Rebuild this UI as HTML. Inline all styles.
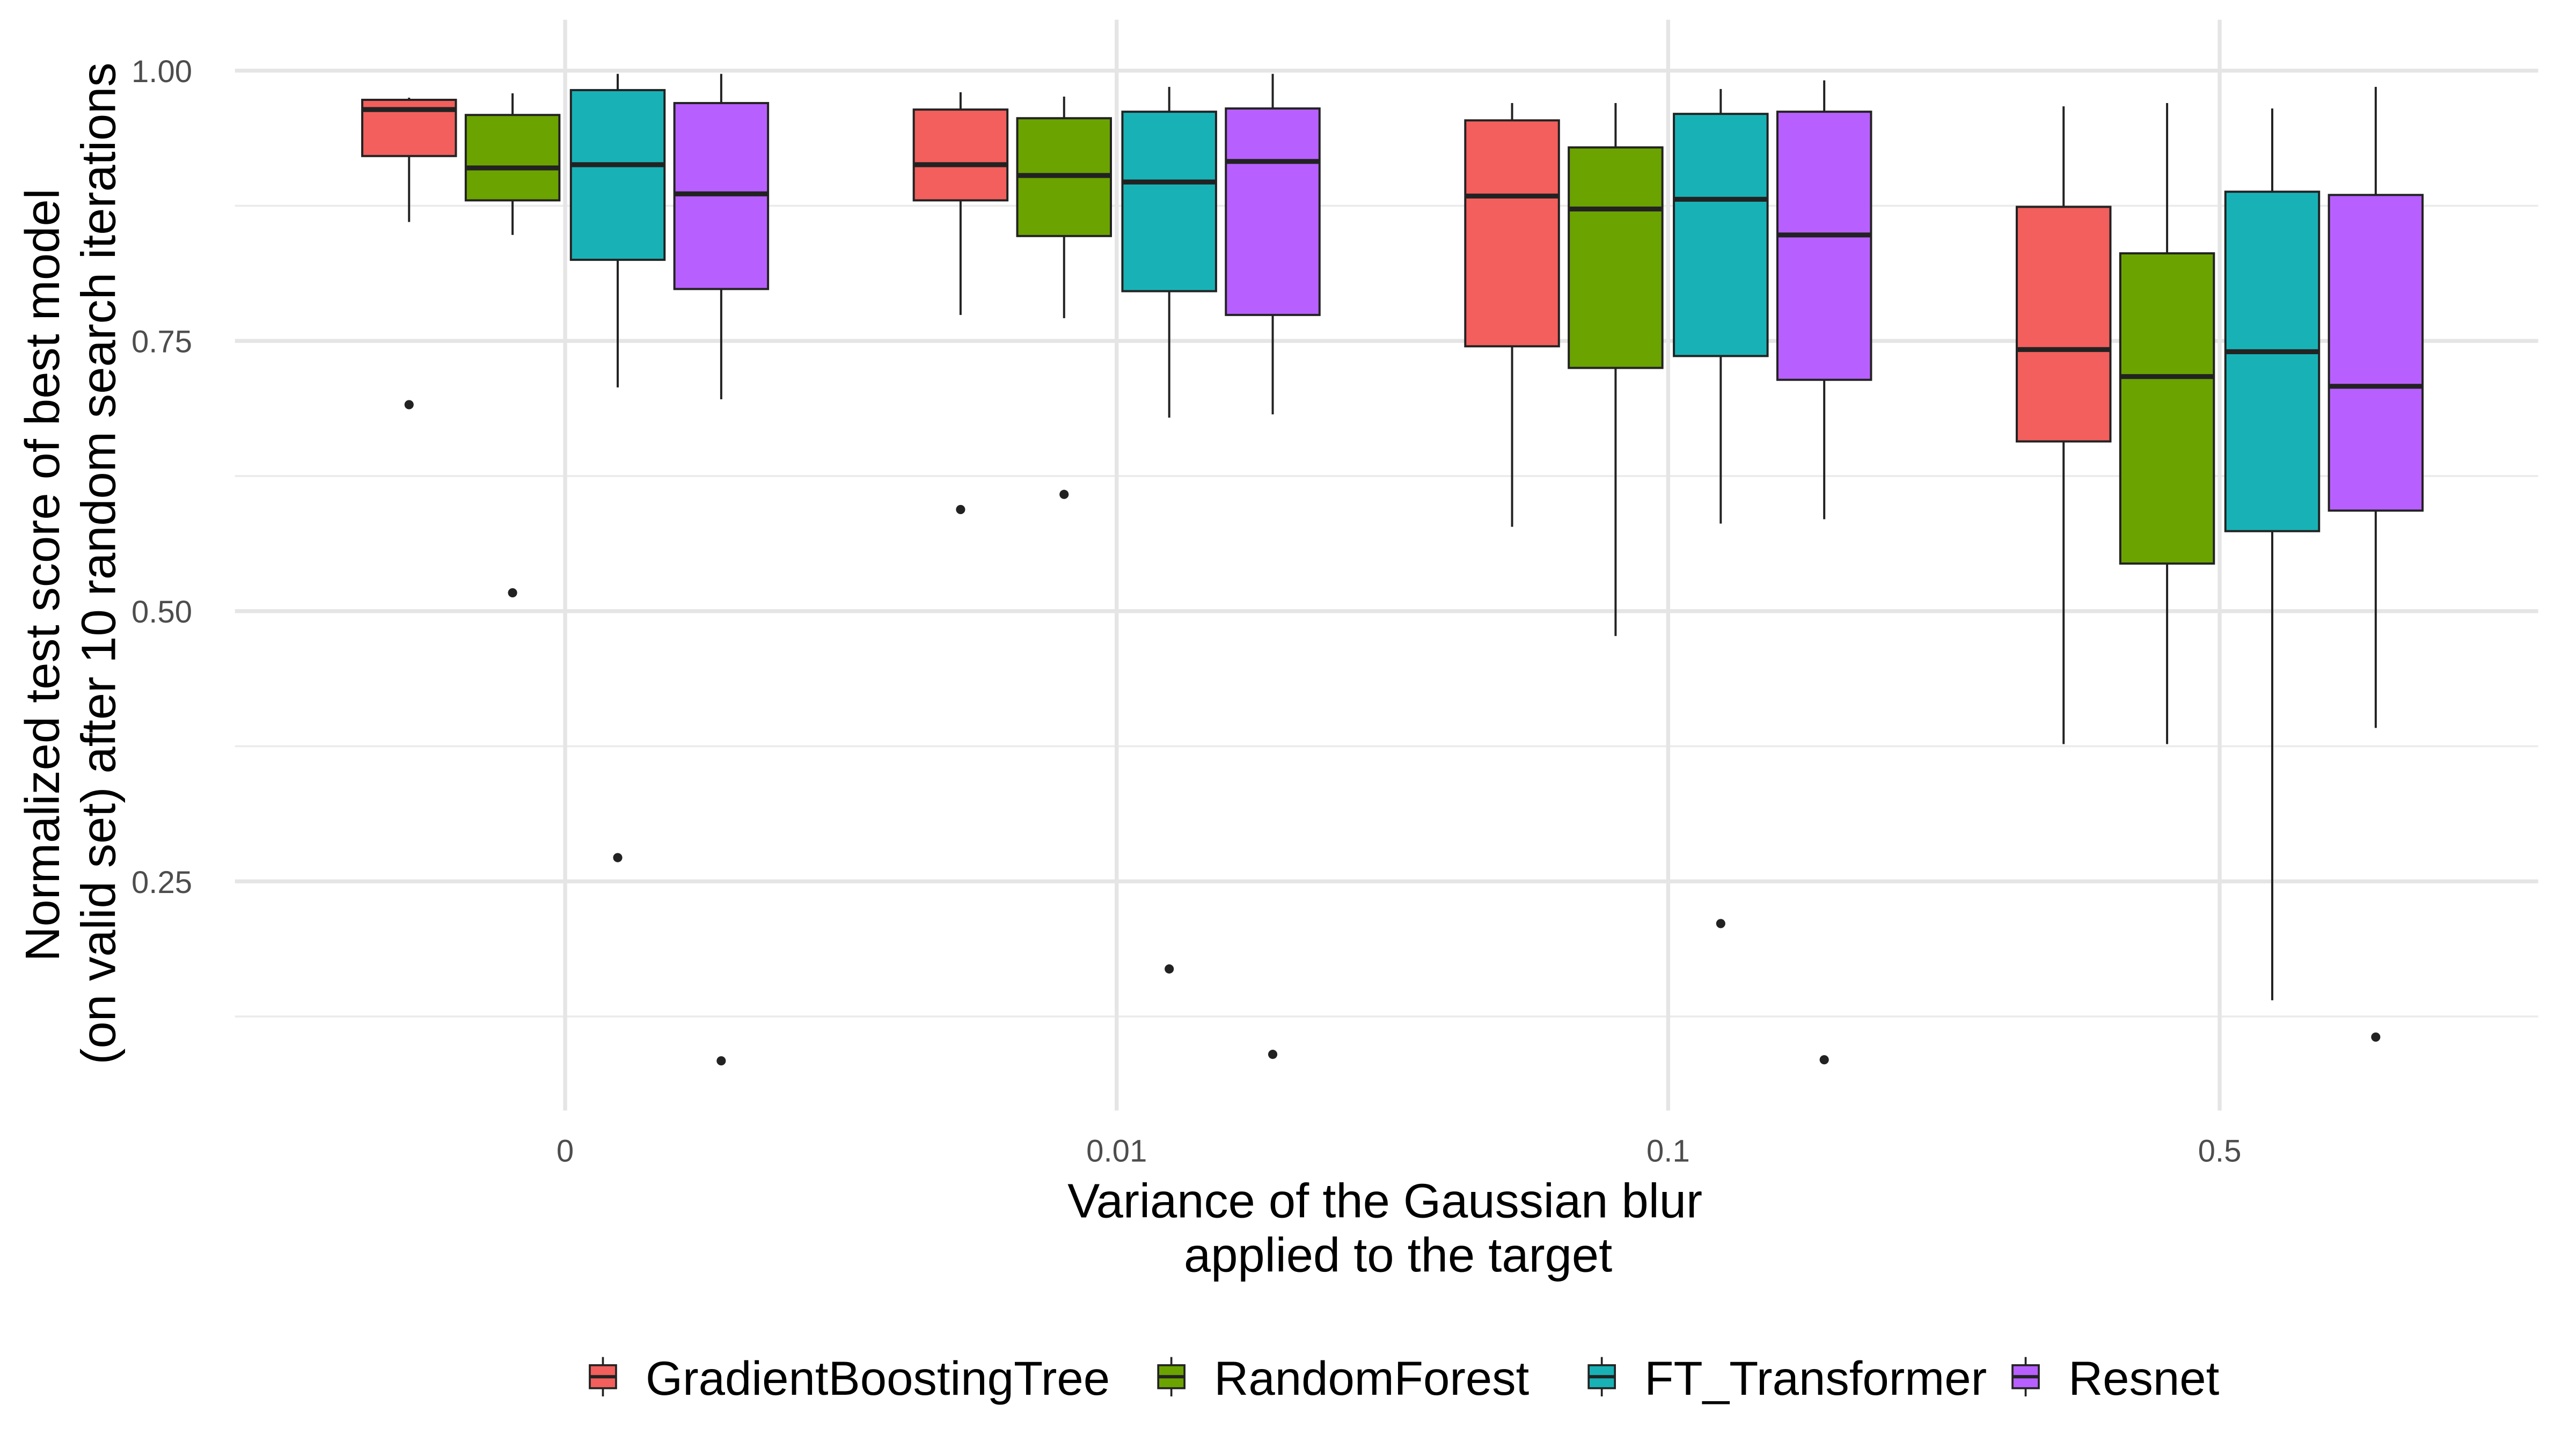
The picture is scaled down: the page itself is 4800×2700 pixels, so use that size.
<!DOCTYPE html>
<html><head><meta charset="utf-8"><style>
html,body{margin:0;padding:0;background:#fff;}
svg{display:block;font-family:"Liberation Sans",sans-serif;}
</style></head><body>
<svg id="chart" width="4800" height="2700" viewBox="0 0 1568 882" xmlns="http://www.w3.org/2000/svg">
<g id="grid"></g>
<g id="boxes"></g>
<g id="axes"></g>
<text x="843" y="741" font-size="29.5" text-anchor="middle" fill="#000">Variance of the Gaussian blur</text>
<text x="851" y="774" font-size="29.5" text-anchor="middle" fill="#000">applied to the target</text>
<text transform="translate(36,350) rotate(-90)" font-size="29.5" text-anchor="middle" fill="#000">Normalized test score of best model</text>
<text transform="translate(70,343) rotate(-90)" font-size="29.5" text-anchor="middle" fill="#000">(on valid set) after 10 random search iterations</text>
<g id="legend"></g>
</svg>
<script>
const categories = ["0","0.01","0.1","0.5"];
const models = ["GradientBoostingTree","RandomForest","FT_Transformer","Resnet"];
const colors = ["#F25F5C","#6BA300","#18B2B6","#B760FF"];
// [lowWhisker, q1, median, q3, highWhisker] per category
const gbt = [[0.860,0.921,0.964,0.973,0.975],[0.774,0.880,0.913,0.964,0.980],[0.578,0.745,0.884,0.954,0.970],[0.377,0.657,0.742,0.874,0.967]];
const rf  = [[0.848,0.880,0.910,0.959,0.979],[0.771,0.847,0.903,0.956,0.976],[0.477,0.725,0.872,0.929,0.970],[0.377,0.544,0.717,0.831,0.970]];
const ft  = [[0.707,0.825,0.913,0.982,0.997],[0.679,0.796,0.897,0.962,0.985],[0.581,0.736,0.881,0.960,0.983],[0.140,0.574,0.740,0.888,0.965]];
const res = [[0.696,0.798,0.886,0.970,0.997],[0.682,0.774,0.916,0.965,0.997],[0.585,0.714,0.848,0.962,0.991],[0.392,0.593,0.708,0.885,0.985]];
const gbtOut = [[0.691],[0.594],[],[]];
const rfOut  = [[0.517],[0.608],[],[]];
const ftOut  = [[0.272],[0.169],[0.211],[]];
const resOut = [[0.084],[0.090],[0.085],[0.106]];
const yTicks = [1.00,0.75,0.50,0.25];
const yTickLabels = ["1.00","0.75","0.50","0.25"];
const yMinor = [0.875,0.625,0.375,0.125];

const NS="http://www.w3.org/2000/svg";
function y(v){return 43+(1-v)*658;}
function xc(i){return 344+i*335.7;}
const offsets=[-95,-32,32,95], bw=57;
function mk(tag,attrs,parent){const e=document.createElementNS(NS,tag);for(const k in attrs)e.setAttribute(k,attrs[k]);parent.appendChild(e);return e;}
const grid=document.getElementById('grid'), boxes=document.getElementById('boxes'), axes=document.getElementById('axes'), legend=document.getElementById('legend');
yMinor.forEach(v=>{const l=mk('line',{x1:143,x2:1545,y1:y(v),y2:y(v),stroke:'#ebebeb','stroke-width':1.2},grid);

});
yTicks.forEach((v,i)=>{const l=mk('line',{x1:143,x2:1545,y1:y(v),y2:y(v),stroke:'#e5e5e5','stroke-width':2.4},grid);


const t=mk('text',{x:117,y:y(v)+7,'font-size':19,'text-anchor':'end',fill:'#4d4d4d'},axes);t.textContent=yTickLabels[i];

});
categories.forEach((c,i)=>{const l=mk('line',{x1:xc(i),x2:xc(i),y1:12,y2:676,stroke:'#e5e5e5','stroke-width':2.4},grid);


const t=mk('text',{x:xc(i),y:707,'font-size':19,'text-anchor':'middle',fill:'#4d4d4d'},axes);t.textContent=c;

});
const series=[gbt,rf,ft,res], outs=[gbtOut,rfOut,ftOut,resOut];
categories.forEach((c,i)=>{series.forEach((s,m)=>{
 const d=s[i], cx=xc(i)+offsets[m];
 const g=mk('g',{},boxes);
 
 
 mk('line',{x1:cx,x2:cx,y1:y(d[4]),y2:y(d[0]),stroke:'#222','stroke-width':1.3},g);
 mk('rect',{x:cx-bw/2,y:y(d[3]),width:bw,height:y(d[1])-y(d[3]),fill:colors[m],stroke:'#222','stroke-width':1.3},g);
 mk('line',{x1:cx-bw/2,x2:cx+bw/2,y1:y(d[2]),y2:y(d[2]),stroke:'#222','stroke-width':3},g);
 outs[m][i].forEach(o=>{const p=mk('circle',{cx:cx,cy:y(o),r:2.8,fill:'#222'},g);
  
  });
});});
const lx=[358,704,966,1224];
models.forEach((m,i)=>{const g=mk('g',{},legend);
 
 
 mk('line',{x1:lx[i]+9,x2:lx[i]+9,y1:826,y2:850,stroke:'#222','stroke-width':1.2},g);
 mk('rect',{x:lx[i]+1,y:831,width:16,height:14,fill:colors[i],stroke:'#222','stroke-width':1.2},g);
 mk('line',{x1:lx[i]+1,x2:lx[i]+17,y1:838,y2:838,stroke:'#222','stroke-width':2},g);
 const t=mk('text',{x:lx[i]+35,y:849,'font-size':29,fill:'#000'},g);t.textContent=m;});
</script>
</body></html>
